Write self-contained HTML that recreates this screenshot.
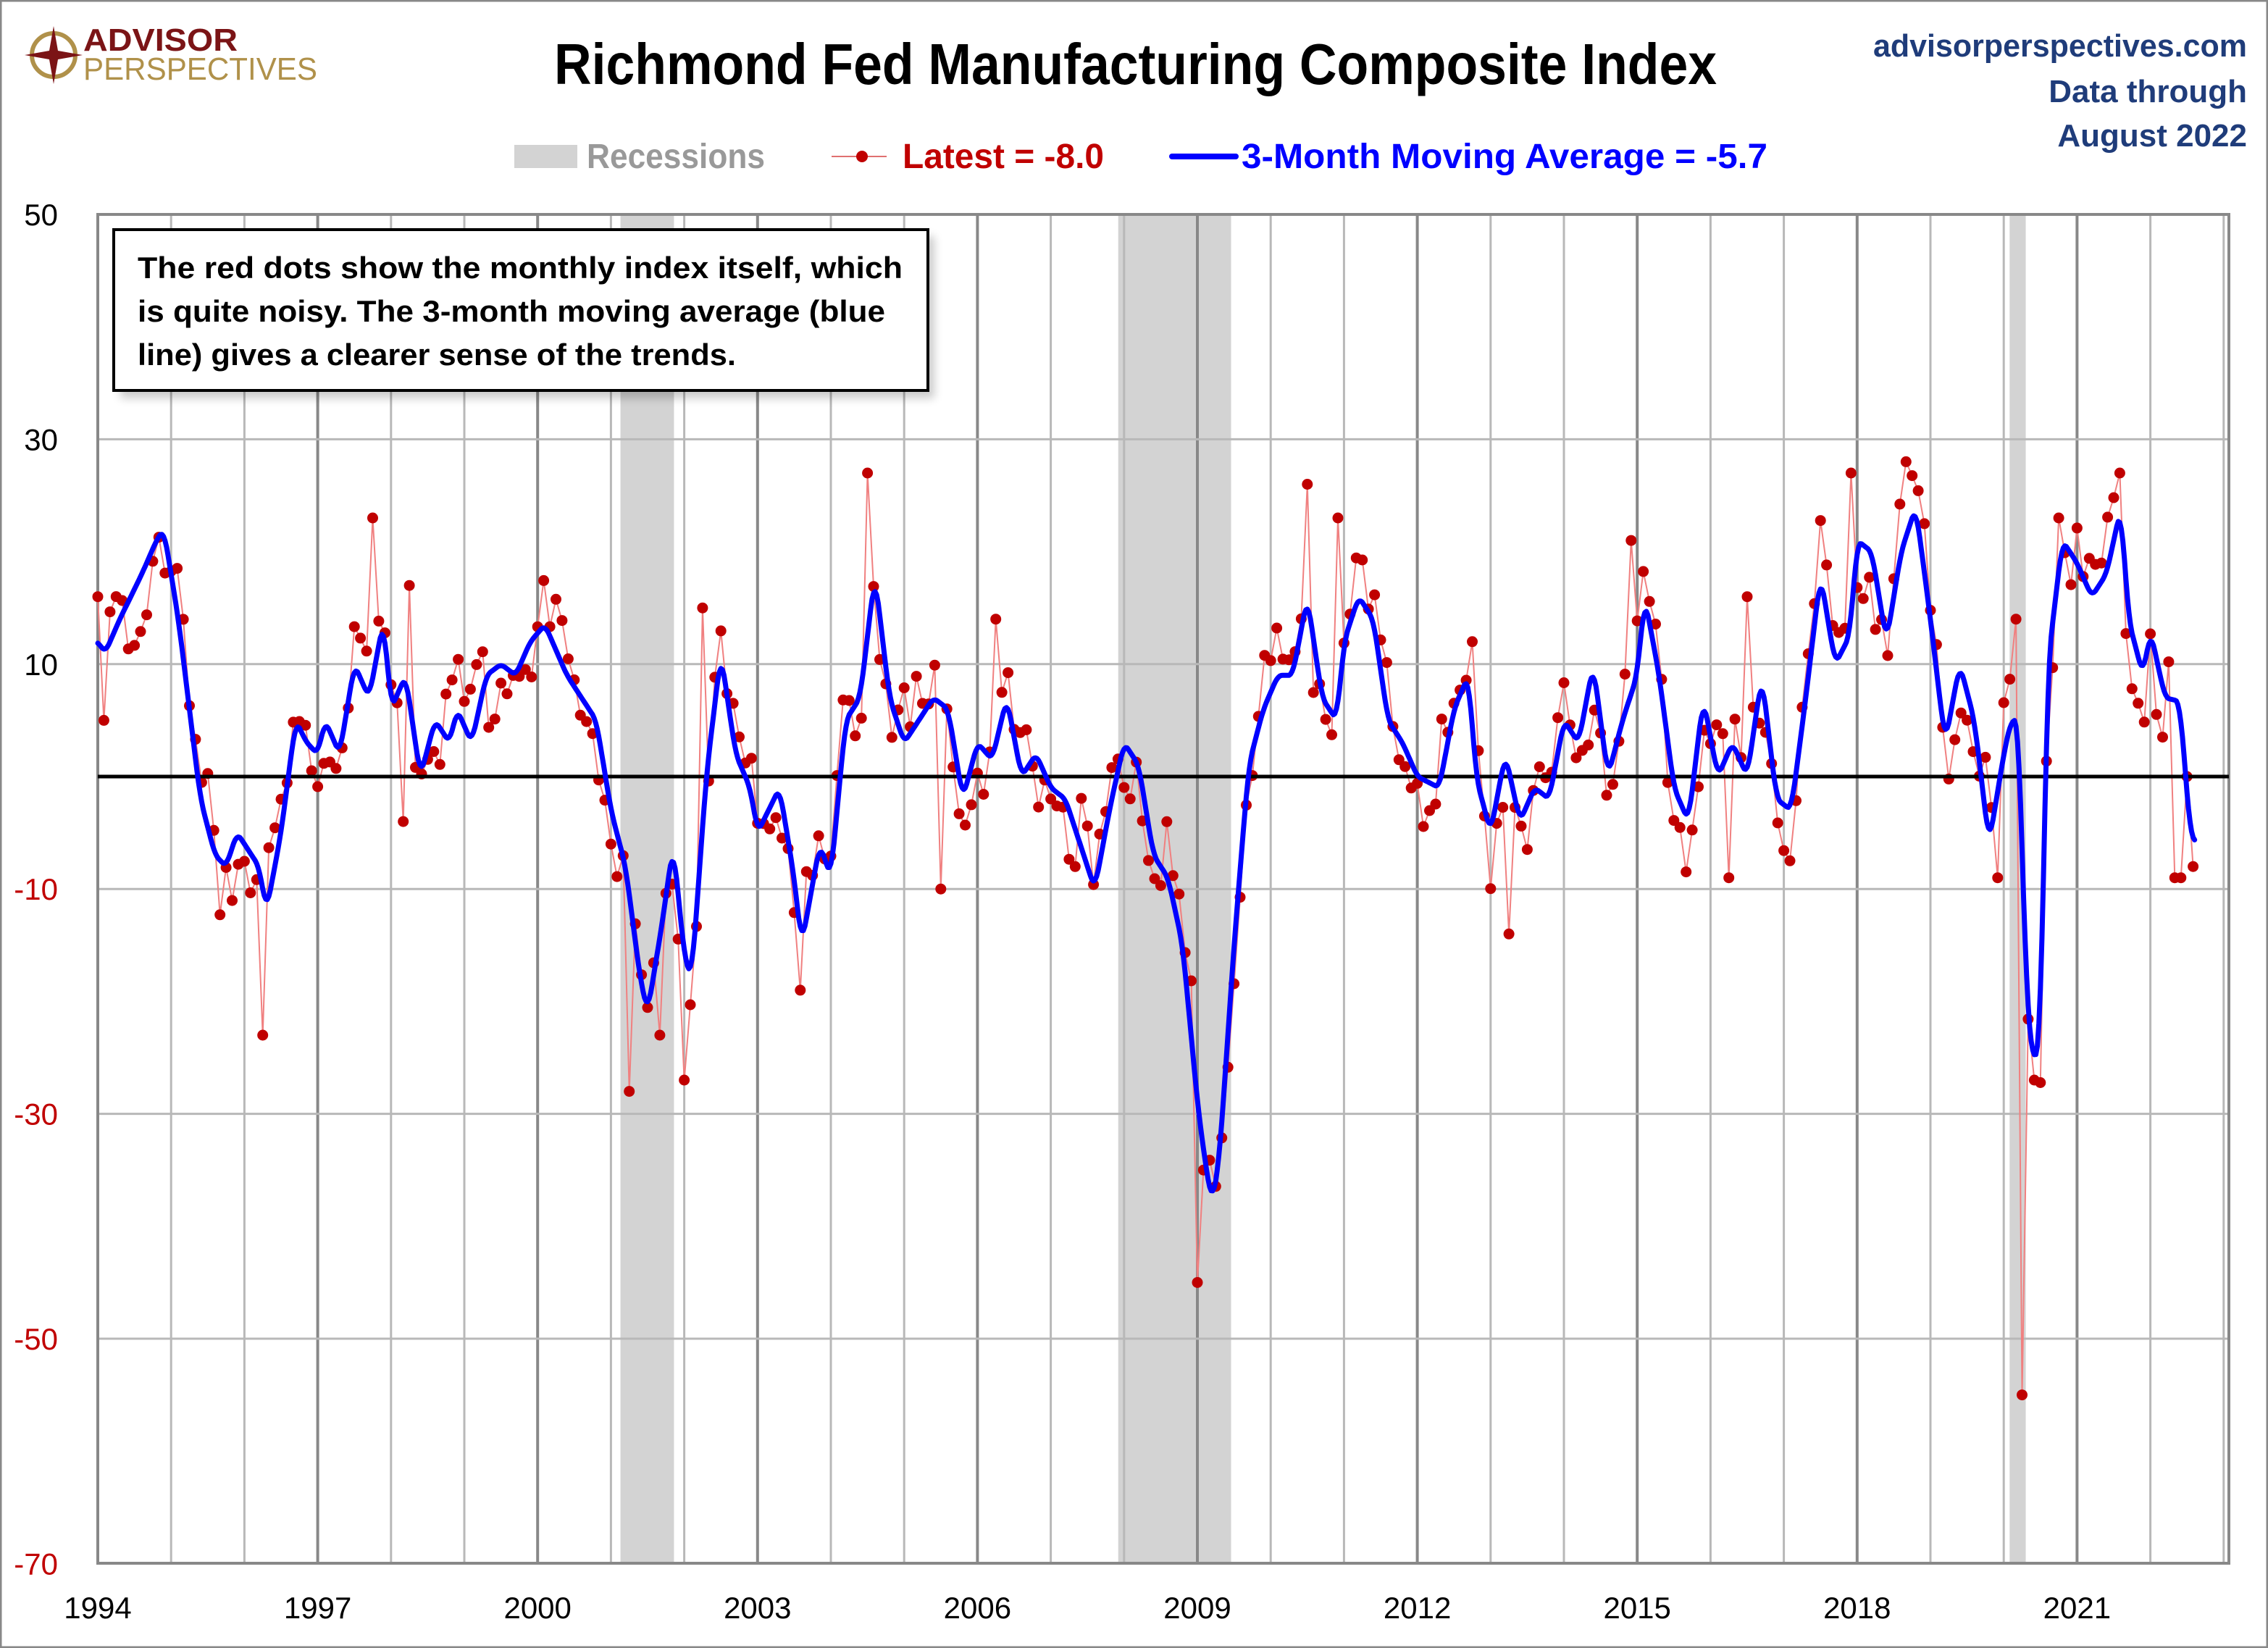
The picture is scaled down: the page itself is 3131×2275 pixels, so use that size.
<!DOCTYPE html>
<html><head><meta charset="utf-8"><style>
html,body{margin:0;padding:0;background:#fff}
svg{display:block}
text{font-family:"Liberation Sans",sans-serif}
</style></head><body>
<svg id="s" width="3131" height="2275" xmlns="http://www.w3.org/2000/svg"></svg>
<script>
const S=document.getElementById('s');
const L=135,R=3077,T=296,B=2158;
const X=y=>L+(y-1994)*101.2;
const Y=v=>1072-v*15.52;
let h='';
h+='<rect x="1" y="1" width="3129" height="2273" fill="#fff" stroke="#888" stroke-width="3"/>';
[[2001.13,2001.86],[2007.92,2009.46],[2020.08,2020.3]].forEach(r=>{h+=`<rect x="${X(r[0])}" y="${T}" width="${X(r[1])-X(r[0])}" height="${B-T}" fill="#d3d3d3"/>`});
for(let y=1995;y<=2023;y++){const x=X(y);if(x>R)break;h+=`<line x1="${x}" y1="${T}" x2="${x}" y2="${B}" stroke="${(y-1994)%3==0?'#888':'#b8b8b8'}" stroke-width="${(y-1994)%3==0?4:3}"/>`}
for(let v=30;v>=-50;v-=20){h+=`<line x1="${L}" y1="${Y(v)}" x2="${R}" y2="${Y(v)}" stroke="#b8b8b8" stroke-width="3"/>`}
h+=`<rect x="${L}" y="${T}" width="${R-L}" height="${B-T}" fill="none" stroke="#888" stroke-width="4"/>`;
for(let v=50;v>=-70;v-=20){h+=`<text x="80" y="${Y(v)+15}" font-size="42" text-anchor="end" fill="${v<0?'#c00000':'#000'}">${v}</text>`}
for(let y=1994;y<=2021;y+=3){h+=`<text x="${X(y)}" y="2234" font-size="42" text-anchor="middle" fill="#000">${y}</text>`}
const A=[[1994.0,12],[1994.1,11],[1994.3,14],[1994.6,18],[1994.8,21],[1994.9,22],[1995.1,14],[1995.4,-2],[1995.6,-7],[1995.75,-8],[1995.9,-5],[1996.2,-8],[1996.3,-12],[1996.5,-5],[1996.7,5],[1996.85,3],[1997.0,2],[1997.1,5],[1997.3,2],[1997.5,10],[1997.7,7],[1997.9,14],[1998.0,6],[1998.2,9],[1998.4,0],[1998.6,5],[1998.8,3],[1998.9,6],[1999.1,3],[1999.3,9],[1999.5,10],[1999.7,9],[1999.9,12],[2000.1,13.5],[2000.4,9],[2000.6,7],[2000.8,5],[2001.0,-3],[2001.2,-8],[2001.4,-18],[2001.5,-21],[2001.7,-13],[2001.85,-6],[2002.0,-16],[2002.1,-18],[2002.3,0],[2002.5,11],[2002.7,2],[2002.9,-1],[2003.0,-5],[2003.3,-1],[2003.5,-9],[2003.6,-15],[2003.85,-6],[2004.0,-9],[2004.2,5],[2004.4,7],[2004.6,18],[2004.8,7],[2005.0,3],[2005.2,5],[2005.4,7],[2005.6,6],[2005.8,-2],[2006.0,3],[2006.2,1.5],[2006.4,7],[2006.6,0],[2006.8,2],[2007.0,-1],[2007.2,-2],[2007.4,-6],[2007.6,-10],[2007.8,-3],[2008.0,3],[2008.2,1],[2008.4,-7],[2008.6,-9],[2008.8,-15],[2009.0,-29],[2009.1,-34],[2009.2,-38],[2009.3,-34],[2009.5,-15],[2009.7,1],[2009.9,6],[2010.1,9],[2010.3,9],[2010.5,16],[2010.7,7],[2010.9,5],[2011.0,12],[2011.2,16],[2011.4,14],[2011.6,5],[2011.8,3],[2012.0,0],[2012.3,-1],[2012.5,6],[2012.7,9],[2012.8,0],[2013.0,-5],[2013.2,2],[2013.4,-4],[2013.6,-1],[2013.8,-2],[2014.0,5],[2014.2,3],[2014.4,10],[2014.6,0],[2014.8,5],[2015.0,9],[2015.1,16],[2015.3,9],[2015.5,-1],[2015.7,-4],[2015.9,7],[2016.1,0],[2016.3,3],[2016.5,0],[2016.7,9],[2016.9,-2],[2017.1,-3],[2017.3,7],[2017.5,18],[2017.7,10],[2017.9,12.5],[2018.0,21],[2018.2,20],[2018.4,12],[2018.6,20],[2018.8,24],[2019.0,14],[2019.2,3],[2019.4,10],[2019.6,5],[2019.8,-6],[2020.0,2],[2020.1,5],[2020.2,5],[2020.3,-18],[2020.4,-26],[2020.5,-23],[2020.6,10],[2020.8,21],[2021.0,19],[2021.2,16],[2021.4,18],[2021.6,24],[2021.7,14],[2021.9,9],[2022.0,13],[2022.2,7],[2022.4,6.7],[2022.55,-5.5],[2022.62,-5.7]];
function ma(y){if(y<=A[0][0])return A[0][1];for(let i=0;i<A.length-1;i++){if(y<=A[i+1][0]){const t=(y-A[i][0])/(A[i+1][0]-A[i][0]);return A[i][1]+t*(A[i+1][1]-A[i][1]);}}return A[A.length-1][1];}
function sm(y){let s=0,n=0;for(let d=-0.05;d<=0.0501;d+=0.0125){let yy=Math.min(Math.max(y+d,1994),2022.62);s+=ma(yy);n++;}return s/n;}
const O={'1994.0':16,'1994.1':5,'1996.3':-23,'1997.8':23,'1998.2':-4,'1998.3':17,'2001.3':-28,'2001.7':-23,'2002.0':-27,'2002.3':15,'2003.6':-19,'2004.5':27,'2005.5':-10,'2006.3':14,'2009.0':-45,'2009.1':-35,'2010.5':26,'2010.9':23,'2012.8':12,'2013.3':-14,'2014.9':21,'2016.3':-9,'2016.5':16,'2017.9':27,'2018.7':28,'2019.9':-9,'2020.2':14,'2020.3':-55,'2020.4':-27,'2020.8':23,'2021.6':27};
const N=344,pts=[];
for(let i=0;i<N;i++){const y=1994+i/12;let v=ma(y)+(Math.sin(i*12.9898+1.3)*43758.5453%1)*5;const k=y.toFixed(1);if(O[k]!==undefined&&!pts.some(p=>p.k==k)){v=O[k];}pts.push({x:X(y),y:Y(v),k:k});}
const tail=[-9,-9,0,-8];for(let j=0;j<4;j++){pts[N-4+j].y=Y(tail[j]);}
h+='<polyline fill="none" stroke="#f08080" stroke-width="2" points="'+pts.map(p=>p.x.toFixed(1)+','+p.y.toFixed(1)).join(' ')+'"/>';
pts.forEach(p=>{h+=`<circle cx="${p.x.toFixed(1)}" cy="${p.y.toFixed(1)}" r="7.5" fill="#c00000"/>`});
h+=`<line x1="${L}" y1="${Y(0)}" x2="${R}" y2="${Y(0)}" stroke="#000" stroke-width="5"/>`;
let mp=[];for(let y=1994;y<=2022.62;y+=1/48){mp.push(X(y).toFixed(1)+','+Y(sm(y)).toFixed(1))}
h+='<polyline fill="none" stroke="#0000ff" stroke-width="7" stroke-linejoin="round" stroke-linecap="round" points="'+mp.join(' ')+'"/>';
h+='<rect x="166" y="326" width="1124" height="224" fill="#000" opacity="0.2" filter="blur(6px)"/>';
h+='<rect x="157" y="317" width="1124" height="222" fill="#fff" stroke="#000" stroke-width="4"/>';
h+='<text x="190" y="384" font-size="42" font-weight="bold" textLength="1056" lengthAdjust="spacingAndGlyphs">The red dots show the monthly  index itself, which</text>';
h+='<text x="190" y="444" font-size="42" font-weight="bold" textLength="1032" lengthAdjust="spacingAndGlyphs">is quite noisy. The 3-month moving average (blue</text>';
h+='<text x="190" y="504" font-size="42" font-weight="bold" textLength="826" lengthAdjust="spacingAndGlyphs">line) gives a clearer sense of the trends.</text>';
h+='<text x="765" y="116" font-size="80" font-weight="bold" textLength="1605" lengthAdjust="spacingAndGlyphs">Richmond Fed Manufacturing Composite Index</text>';
h+='<text x="2586" y="78" font-size="44" font-weight="bold" fill="#1f3c7a" textLength="516" lengthAdjust="spacingAndGlyphs">advisorperspectives.com</text>';
h+='<text x="3102" y="141" font-size="44" font-weight="bold" fill="#1f3c7a" text-anchor="end">Data through</text>';
h+='<text x="3102" y="202" font-size="44" font-weight="bold" fill="#1f3c7a" text-anchor="end">August 2022</text>';
h+='<rect x="710" y="200" width="87" height="32" fill="#d3d3d3"/>';
h+='<text x="810" y="232" font-size="48" font-weight="bold" fill="#999" textLength="246" lengthAdjust="spacingAndGlyphs">Recessions</text>';
h+='<line x1="1148" y1="216" x2="1224" y2="216" stroke="#e07070" stroke-width="2"/><circle cx="1190" cy="216" r="8" fill="#c00000"/>';
h+='<text x="1246" y="232" font-size="48" font-weight="bold" fill="#c00000" textLength="278" lengthAdjust="spacingAndGlyphs">Latest = -8.0</text>';
h+='<line x1="1618" y1="216" x2="1706" y2="216" stroke="#0000ff" stroke-width="8" stroke-linecap="round"/>';
h+='<text x="1714" y="232" font-size="48" font-weight="bold" fill="#0000ff" textLength="726" lengthAdjust="spacingAndGlyphs">3-Month Moving Average = -5.7</text>';
h+='<circle cx="74" cy="76" r="30" fill="none" stroke="#b0914a" stroke-width="6"/>';
h+='<polygon points="74,36 80,70 114,76 80,82 74,116 68,82 34,76 68,70" fill="#7b1416"/>';
h+='<text x="115" y="70" font-size="44" font-weight="bold" fill="#7b1416" textLength="213" lengthAdjust="spacingAndGlyphs">ADVISOR</text>';
h+='<text x="115" y="110" font-size="44" fill="#b0914a" textLength="323" lengthAdjust="spacingAndGlyphs">PERSPECTIVES</text>';
S.innerHTML=h;
</script>
</body></html>
